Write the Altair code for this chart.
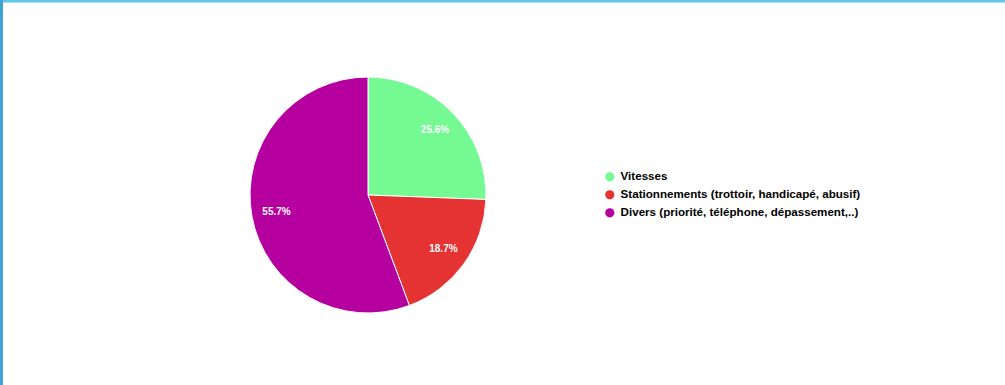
import altair as alt
import pandas as pd

categories = [
    "Vitesses",
    "Stationnements (trottoir, handicapé, abusif)",
    "Divers (priorité, téléphone, dépassement,..)",
]
values = [25.6, 18.7, 55.7]
colors = ["#74F993", "#E53333", "#B5009F"]

df = pd.DataFrame({
    "cat": categories,
    "val": values,
    "idx": list(range(len(categories))),
    "label": [f"{v:.1f}%" for v in values],
})

W, H = 1005, 385
cx, cy, R = 368, 195, 118

base = alt.Chart(df).encode(
    theta=alt.Theta("val:Q", stack=True),
    order=alt.Order("idx:Q", sort="ascending"),
)

pie = base.mark_arc(radius=R, stroke="white", strokeWidth=1).encode(
    x=alt.value(cx),
    y=alt.value(cy),
    color=alt.Color(
        "cat:N",
        scale=alt.Scale(domain=categories, range=colors),
        sort=categories,
        legend=alt.Legend(
            title=None,
            orient="none",
            legendX=604,
            legendY=171,
            labelFont="Liberation Sans",
            labelFontWeight="bold",
            labelFontSize=11.6,
            labelColor="#000000",
            symbolType="circle",
            symbolSize=85,
            symbolStrokeWidth=0,
            rowPadding=5,
            labelOffset=5,
            labelLimit=400,
        ),
    ),
)

labels = base.mark_text(
    radius=93,
    font="Liberation Sans",
    fontWeight="bold",
    fontSize=10,
    color="white",
).encode(
    x=alt.value(cx),
    y=alt.value(cy),
    text="label:N",
)

border_df = pd.DataFrame({"k": [0]})
top_border = alt.Chart(border_df).mark_rule(color="#5EC9E6", strokeWidth=3).encode(
    x=alt.value(0), x2=alt.value(W), y=alt.value(1)
)
left_border = alt.Chart(border_df).mark_rule(color="#3FA3D3", strokeWidth=3).encode(
    x=alt.value(1.5), y=alt.value(0), y2=alt.value(H)
)

chart = alt.layer(pie, labels, top_border, left_border).properties(
    width=W,
    height=H,
    autosize=alt.AutoSizeParams(type="none"),
    padding=0,
    background="white",
).configure_view(stroke=None)

chart.save("out.html", embed_options={"renderer": "svg", "actions": False})
